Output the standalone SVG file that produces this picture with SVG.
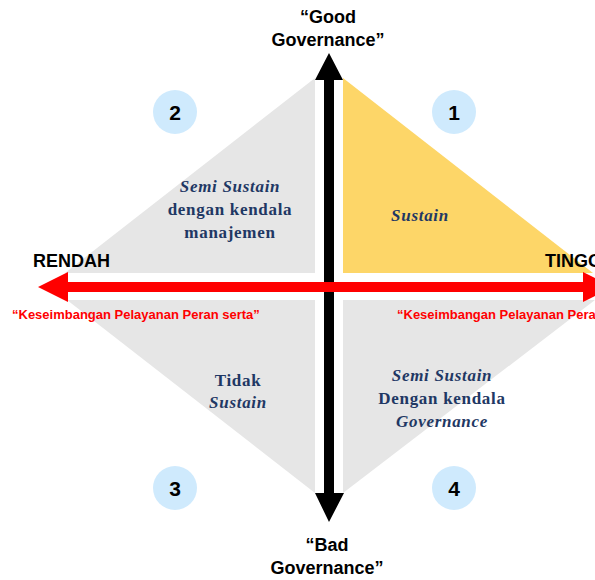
<svg xmlns="http://www.w3.org/2000/svg" width="595" height="580" viewBox="0 0 595 580">
<style>
.q{fill:#e6e6e6}
.qy{fill:#fdd668}
.qt{font-family:"Liberation Serif","Times New Roman",serif;font-weight:bold;font-size:17px;fill:#1f3864;text-anchor:middle;letter-spacing:0.7px}
.it{font-style:italic}
.num{fill:#cfeafd}
.nt{font-family:"Liberation Sans",Arial,sans-serif;font-weight:bold;font-size:21px;fill:#000;text-anchor:middle}
.ax{font-family:"Liberation Sans",Arial,sans-serif;font-weight:bold;font-size:18px;fill:#000}
.rt{font-family:"Liberation Sans",Arial,sans-serif;font-weight:bold;font-size:13px;fill:#ff0000}
</style>
<rect width="595" height="580" fill="#fff"/>
<g id="q2">
<polygon class="q" points="315,78 315,273 65,273"/>
<text class="qt it" x="230" y="192">Semi Sustain</text>
<text class="qt" x="230" y="215">dengan kendala</text>
<text class="qt" x="230" y="238">manajemen</text>
</g>
<g id="q1">
<polygon class="qy" points="343,78 343,273 593,273"/>
<text class="qt it" x="420" y="221">Sustain</text>
</g>
<g id="q3">
<polygon class="q" points="315,300 315,493 67,300"/>
<text class="qt" x="238" y="386">Tidak</text>
<text class="qt it" x="238" y="408">Sustain</text>
</g>
<g id="q4">
<polygon class="q" points="343,300 343,493 595,300"/>
<text class="qt it" x="442" y="381">Semi Sustain</text>
<text class="qt" x="442" y="404">Dengan kendala</text>
<text class="qt it" x="442" y="427">Governance</text>
</g>
<g id="n2"><circle class="num" cx="175" cy="112" r="22"/><text class="nt" x="175" y="119.5">2</text></g>
<g id="n1"><circle class="num" cx="454" cy="112" r="22"/><text class="nt" x="454" y="119.5">1</text></g>
<g id="n3"><circle class="num" cx="175" cy="488" r="22"/><text class="nt" x="175" y="495.5">3</text></g>
<g id="n4"><circle class="num" cx="454" cy="488" r="22"/><text class="nt" x="454" y="495.5">4</text></g>
<g id="connectors">
<polygon fill="#000" points="324,80 315,80 329,53 343,80 334,80 334,493 344,493 329,522 315,493 324,493"/>
<polygon fill="#ff0000" points="68,282 68,272 38,287 68,302 68,292 583,292 583,302 613,287 583,272 583,282"/>
</g>
<g id="labels">
<text class="ax" x="328" y="23" text-anchor="middle">“Good</text>
<text class="ax" x="328" y="46" text-anchor="middle">Governance”</text>
<text class="ax" x="327" y="551" text-anchor="middle">“Bad</text>
<text class="ax" x="327" y="574" text-anchor="middle">Governance”</text>
<text class="ax" x="33" y="267">RENDAH</text>
<text class="ax" x="545" y="267">TINGGI</text>
<text class="rt" x="12" y="319">“Keseimbangan Pelayanan Peran serta”</text>
<text class="rt" x="397" y="319">“Keseimbangan Pelayanan Peran serta”</text>
</g>
</svg>
